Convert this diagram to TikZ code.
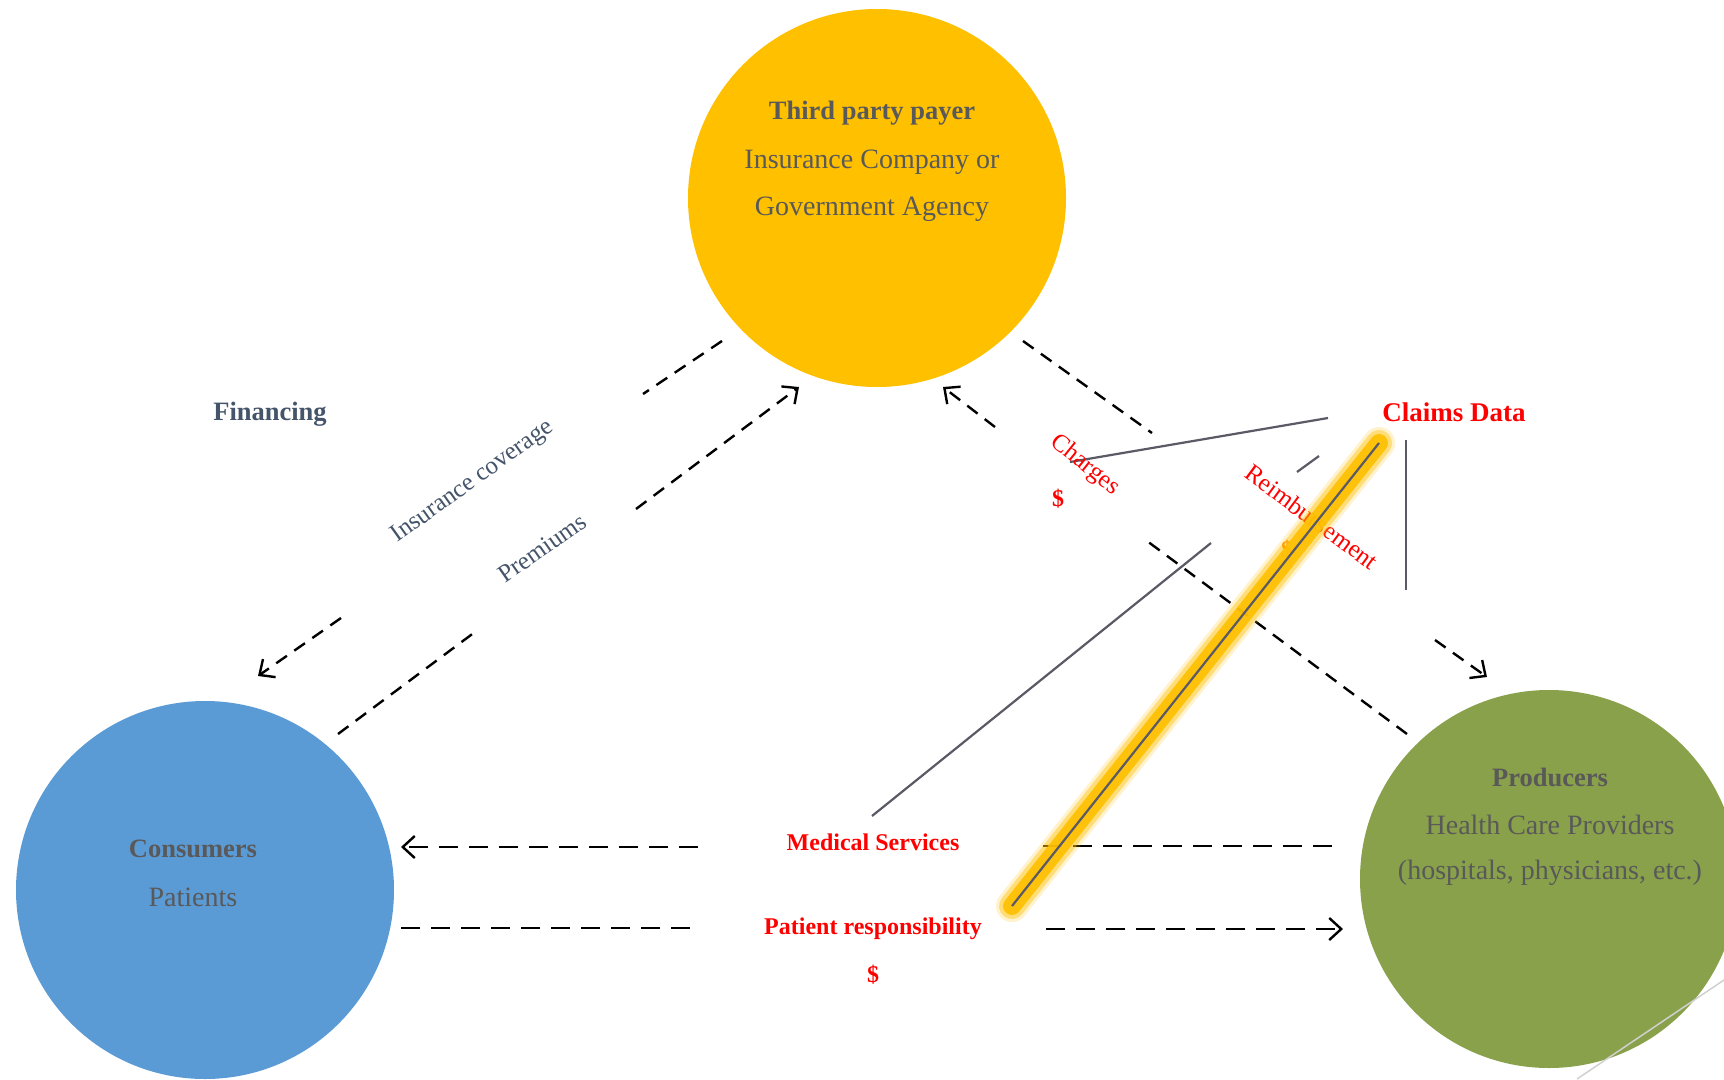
\documentclass[tikz,border=0pt]{standalone}
\usepackage{fontspec}
\setmainfont{Liberation Serif}
\usetikzlibrary{arrows.meta}
\definecolor{payerY}{HTML}{FFC000}
\definecolor{consB}{HTML}{5B9BD5}
\definecolor{prodG}{HTML}{89A14A}
\definecolor{txtgray}{HTML}{595959}
\definecolor{finblue}{HTML}{44546A}
\definecolor{calloutgray}{HTML}{5A5A66}
\definecolor{lightline}{HTML}{D0D0D0}
\tikzset{
  bubble/.style={circle, minimum size=378pt, inner sep=0pt, draw=none},
  titletxt/.style={text=txtgray, font=\bfseries\fontsize{26.5}{30}\selectfont, inner sep=0pt},
  subtxt/.style={text=txtgray, font=\fontsize{28}{32}\selectfont, inner sep=0pt},
  fintxt/.style={text=finblue, font=\fontsize{25}{29}\selectfont, inner sep=0pt},
  redtxt/.style={text=red, font=\bfseries\fontsize{24}{28}\selectfont, inner sep=0pt},
  redrot/.style={text=red, font=\fontsize{25}{29}\selectfont, inner sep=0pt},
  flowdiag/.style={line width=2.4pt, dash pattern=on 13pt off 9pt},
  flowhor/.style={line width=2.6pt, dash pattern=on 19pt off 11pt},
  tip/.style={-{Straight Barb[length=12pt,width=22pt,line width=2.4pt]}},
  callout/.style={calloutgray, line width=2.2pt},
}
\begin{document}
\begin{tikzpicture}[x=1pt,y=-1pt]
\clip (0,0) rectangle (1724,1079);
\fill[white] (0,0) rectangle (1724,1079);

% circles
\node[bubble, fill=payerY] (payer) at (877,198) {};
\node[bubble, fill=consB] (cons) at (205,890) {};
\node[bubble, fill=prodG] (prod) at (1549,879) {};

% faint line bottom right
\coordinate (fa) at (1724,980);
\coordinate (fb) at (1577,1079);
\draw[lightline, line width=1.5pt] (fa) -- (fb);

% endpoints of flow segments
\coordinate (a1) at (722,341); \coordinate (a2) at (643,394);
\coordinate (a3) at (341,618); \coordinate (a4) at (258,676);
\coordinate (b1) at (338,734); \coordinate (b2) at (479,629);
\coordinate (b3) at (636,509); \coordinate (b4) at (799,387);
\coordinate (c1) at (1023,341); \coordinate (c2) at (1152,433);
\coordinate (c3) at (1435,640); \coordinate (c4) at (1487,677);
\coordinate (d1) at (1407,734); \coordinate (d2) at (1147,541);
\coordinate (d3) at (995,427); \coordinate (d4) at (943,387);
\coordinate (m1) at (1343,846); \coordinate (m2) at (1043,846);
\coordinate (m3) at (698,847); \coordinate (m4) at (401,847);
\coordinate (p1) at (401,928); \coordinate (p2) at (701,928);
\coordinate (p3) at (1046,929); \coordinate (p4) at (1343,929);

% dashed flows
\draw[flowdiag] (a1) -- (a2);
\draw[flowdiag, tip] (a3) -- (a4);
\draw[flowdiag] (b1) -- (b2);
\draw[flowdiag, tip] (b3) -- (b4);
\draw[flowdiag] (c1) -- (c2);
\draw[flowdiag, tip] (c3) -- (c4);
\draw[flowdiag] (d1) -- (d2);
\draw[flowdiag, tip] (d3) -- (d4);
\draw[flowhor] (m2) -- (m1);
\draw[flowhor, tip] (m3) -- (m4);
\draw[flowhor] (p1) -- (p2);
\draw[flowhor, tip] (p3) -- (p4);

% callout lines
\coordinate (g1) at (1328,418); \coordinate (g2) at (1070,462);
\coordinate (g3) at (1319,456); \coordinate (g4) at (1297,472);
\coordinate (g5) at (1211,543); \coordinate (g6) at (872,816);
\coordinate (g7) at (1406,440); \coordinate (g8) at (1406,590);
\draw[callout] (g1) -- (g2);
\draw[callout] (g3) -- (g4);
\draw[callout] (g5) -- (g6);
\draw[callout] (g7) -- (g8);

% texts
\node[titletxt] (tpp) at (872,113) {Third party payer};
\node[subtxt] (tpp2) at (872,162) {Insurance Company or};
\node[subtxt] (tpp3) at (872,209) {Government Agency};
\node[titletxt] (ctitle) at (193,849) {Consumers};
\node[subtxt] (csub) at (193,897) {Patients};
\node[titletxt] (ptitle) at (1550,777) {Producers};
\node[subtxt] (psub) at (1550,825) {Health Care Providers};
\node[subtxt] (psub2) at (1550,873) {(hospitals, physicians, etc.)};

\node[fintxt, font=\bfseries\fontsize{26.5}{30}\selectfont] (fin) at (270,414) {Financing};
\node[fintxt, rotate=35.6] (inscov) at (473,482) {Insurance coverage};
\node[fintxt, rotate=35] (prem) at (542,548) {Premiums};

\node[redtxt, font=\bfseries\fontsize{27}{31}\selectfont] (claims) at (1454,412) {Claims Data};
\node[redrot, rotate=-38.7] (charges) at (1085,465) {Charges};
\node[redtxt] (chd) at (1058,499) {\$};
\node[redrot, rotate=-36.5] (reimb) at (1312,517) {Reimbursement};
\node[redtxt, text=orange] (rd) at (1287,550) {\$};
\node[redtxt] (med) at (873,842) {Medical Services};
\node[redtxt] (pat) at (873,929) {Patient responsibility};
\node[redtxt] (patd) at (873,975) {\$};

% highlighted callout line with glow
\coordinate (h1) at (1379,443); \coordinate (h2) at (1012,906);
\draw[payerY, opacity=0.2, line width=32pt, line cap=round] (h1) -- (h2);
\draw[payerY, opacity=0.4, line width=26pt, line cap=round] (h1) -- (h2);
\draw[payerY, opacity=0.9, line width=18pt, line cap=round] (h1) -- (h2);
\draw[callout] (h1) -- (h2);
\end{tikzpicture}
\end{document}
